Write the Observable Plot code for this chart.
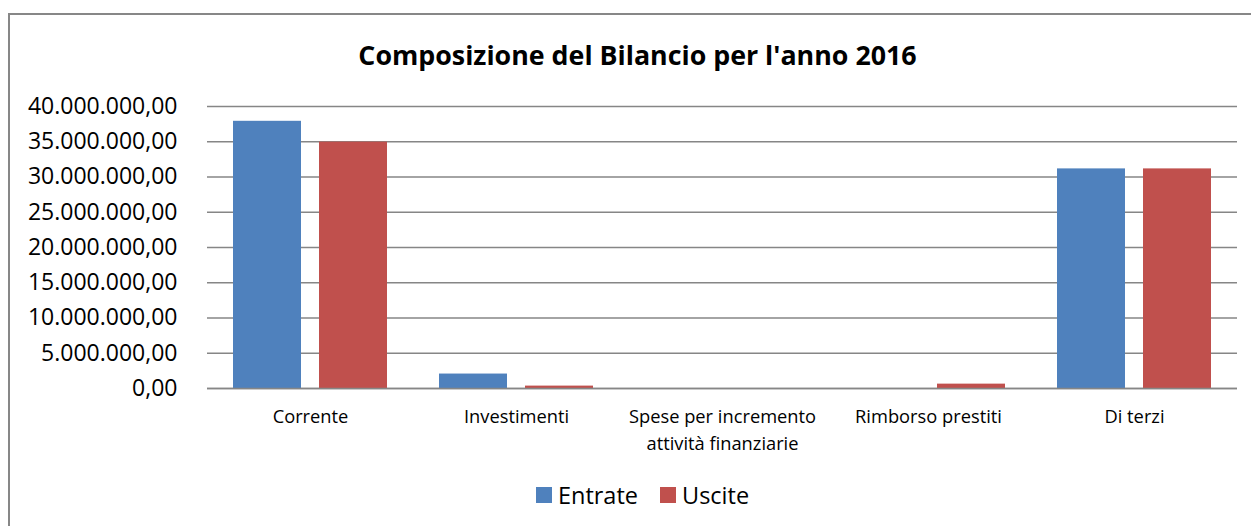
<!DOCTYPE html>
<html><head><meta charset="utf-8">
<script src="https://cdn.jsdelivr.net/npm/d3@7"></script>
<script src="https://cdn.jsdelivr.net/npm/@observablehq/plot@0.6"></script>
<style>
html,body{margin:0;padding:0;background:#fff;}
body{width:1251px;height:526px;overflow:hidden;position:relative;font-family:"Open Sans",sans-serif;color:#000;}
#frame{position:absolute;left:8px;top:13px;width:1300px;height:600px;border:2px solid #878787;box-sizing:border-box;}
#title{position:absolute;left:12px;width:1251px;top:37px;text-align:center;font-weight:bold;font-size:26.8px;line-height:36px;}
#chart{position:absolute;left:0;top:80px;}
#legend{position:absolute;top:479px;left:17px;width:1251px;display:flex;justify-content:center;align-items:center;font-size:23.5px;line-height:32px;}
.item{display:flex;align-items:center;margin:0 11px;}
.sw{width:16px;height:16px;margin-right:6px;}
</style>
</head><body>
<div id="frame"></div>
<div id="title">Composizione del Bilancio per l'anno 2016</div>
<div id="chart"></div>
<div id="legend"></div>
<script>
const categories = ["Corrente","Investimenti","Spese per incremento attività finanziarie","Rimborso prestiti","Di terzi"];
const categoryLabels = ["Corrente","Investimenti","Spese per incremento\nattività finanziarie","Rimborso prestiti","Di terzi"];
const series = ["Entrate","Uscite"];
const entrate = [37900000, 2050000, 0, 0, 31150000];
const uscite = [34950000, 340000, 0, 620000, 31150000];
const colors = ["#4F81BD","#C0504D"];
const yTicks = [0,5000000,10000000,15000000,20000000,25000000,30000000,35000000,40000000];

const rowsE = categories.map((c,i)=>({cat:c, series:"Entrate", value:entrate[i]}));
const rowsU = categories.map((c,i)=>({cat:c, series:"Uscite", value:uscite[i]}));

const it = d3.formatLocale({decimal:",", thousands:".", grouping:[3], currency:["","€"]});
const fmt = it.format(",.2f");
const labelOf = new Map(categories.map((c,i)=>[c,categoryLabels[i]]));

// band: step 206, bandwidth 154; each bar 68 wide with 18 gap
const barInset = 86;

const plot = Plot.plot({
  width:1251,
  height:380,
  marginTop:26,
  marginBottom:72,
  marginLeft:207,
  marginRight:14,
  style:{fontFamily:"'Open Sans', sans-serif", color:"#000", background:"transparent"},
  x:{domain:categories, paddingInner:0.252, paddingOuter:0.126, label:null, axis:null},
  y:{domain:[0,40000000], label:null, axis:null},
  color:{domain:series, range:colors},
  marks:[
    Plot.ruleY(yTicks, {stroke:"#868686", strokeWidth:1.3}),
    Plot.axisY(yTicks, {tickSize:0, tickPadding:30, tickFormat:fmt, fontSize:23, label:null}),
    Plot.barY(rowsE, {x:"cat", y:"value", fill:"series", insetRight:barInset}),
    Plot.barY(rowsU, {x:"cat", y:"value", fill:"series", insetLeft:barInset}),
    Plot.ruleY([0], {stroke:"#868686", strokeWidth:1.5}),
    Plot.axisX({anchor:"bottom", tickSize:0, tickPadding:16, fontSize:18.3, lineHeight:1.45, tickFormat:d=>labelOf.get(d), label:null})
  ]
});
document.getElementById("chart").appendChild(plot);

const lg = document.getElementById("legend");
series.forEach((s,i)=>{
  const el = document.createElement("div"); el.className="item";
  const sw = document.createElement("div"); sw.className="sw"; sw.style.background=colors[i];
  const tx = document.createElement("span"); tx.textContent=s;
  el.appendChild(sw); el.appendChild(tx); lg.appendChild(el);
});
</script>
</body></html>
